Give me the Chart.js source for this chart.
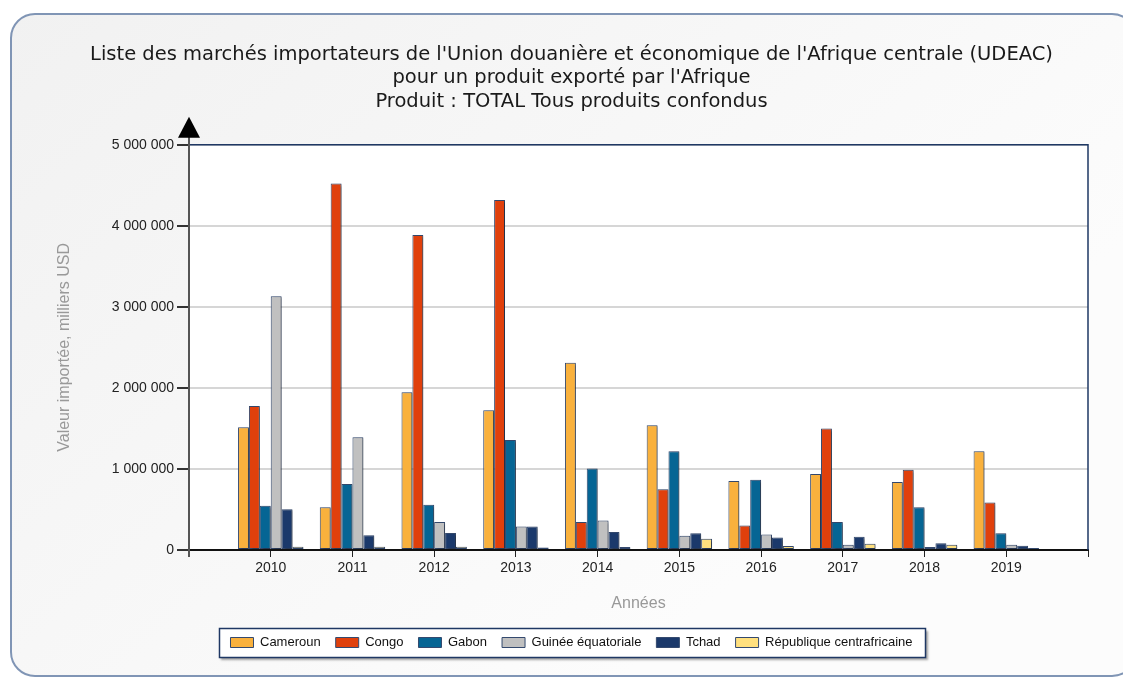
<!DOCTYPE html>
<html>
<head>
<meta charset="utf-8">
<script src="https://cdn.jsdelivr.net/npm/chart.js@4.4.0/dist/chart.umd.min.js"></script>
<style>
  html, body { margin: 0; padding: 0; background: #fff; }
  #wrap { width: 1123px; height: 677px; }
</style>
</head>
<body>
<div id="wrap"><canvas id="myChart" width="1123" height="677"></canvas></div>
<script>
const years = ['2010', '2011', '2012', '2013', '2014', '2015', '2016', '2017', '2018', '2019'];

const cameroun = [1515000, 528000, 1947000, 1724000, 2310000, 1539000, 850000, 937000, 838000, 1217000];
const congo = [1778000, 4521000, 3886000, 4319000, 347000, 751000, 301000, 1498000, 990000, 585000];
const gabon = [545000, 813000, 557000, 1357000, 1006000, 1217000, 866000, 347000, 528000, 206000];
const guinee = [3131000, 1390000, 347000, 289000, 363000, 177000, 190000, 66000, 37000, 66000];
const tchad = [503000, 182000, 210000, 289000, 223000, 206000, 153000, 165000, 83000, 53000];
const rca = [41000, 41000, 40000, 30000, 37000, 140000, 50000, 78000, 66000, 25000];

const yTicks = [0, 1000000, 2000000, 3000000, 4000000, 5000000];

const titleLines = [
  "Liste des marchés importateurs de l'Union douanière et économique de l'Afrique centrale (UDEAC)",
  "pour un produit exporté par l'Afrique",
  "Produit : TOTAL Tous produits confondus"
];

// empty slot before 2010 and after 2019, like the original axis
const labels = [''].concat(years, ['']);
function pad(arr) { return [null].concat(arr, [null]); }

function fmt(v) {
  return String(v).replace(/\B(?=(\d{3})+(?!\d))/g, ' ');
}

const frame = {
  id: 'frame',
  beforeDraw(chart) {
    const ctx = chart.ctx;
    const a = chart.chartArea;
    ctx.save();
    ctx.fillStyle = '#fff';
    ctx.fillRect(0, 0, chart.width, chart.height);
    // rounded panel
    let g = ctx.createLinearGradient(0, 14, 600, 700);
    g.addColorStop(0, '#f1f1f1');
    g.addColorStop(1, '#fcfcfc');
    ctx.beginPath();
    ctx.roundRect(11, 14, 1125, 662, 24);
    ctx.fillStyle = g;
    ctx.fill();
    ctx.lineWidth = 2;
    ctx.strokeStyle = '#8095b5';
    ctx.stroke();
    // plot background
    ctx.fillStyle = '#fff';
    ctx.fillRect(a.left, a.top, a.right - a.left, a.bottom - a.top);
    // legend box
    const lg = chart.legend;
    if (lg && lg.legendHitBoxes.length) {
      const hb = lg.legendHitBoxes;
      const l = hb[0].left - 11;
      const r = hb[hb.length - 1].left + hb[hb.length - 1].width + 13;
      const cy = hb[0].top + hb[0].height / 2;
      ctx.shadowColor = 'rgba(0,0,0,0.35)';
      ctx.shadowOffsetX = 2;
      ctx.shadowOffsetY = 2;
      ctx.shadowBlur = 2;
      ctx.fillStyle = '#fff';
      ctx.fillRect(l, cy - 14, r - l, 29);
      ctx.shadowColor = 'transparent';
      ctx.lineWidth = 1.5;
      ctx.strokeStyle = '#1f3864';
      ctx.strokeRect(l, cy - 14, r - l, 29);
    }
    ctx.restore();
  },
  beforeDatasetsDraw(chart) {
    const ctx = chart.ctx;
    ctx.save();
    ctx.shadowColor = 'rgba(0,0,0,0.35)';
    ctx.shadowOffsetX = 2;
    ctx.shadowOffsetY = 1;
    ctx.shadowBlur = 2;
  },
  afterDatasetsDraw(chart) {
    chart.ctx.restore();
  },
  afterDraw(chart) {
    const ctx = chart.ctx;
    const a = chart.chartArea;
    ctx.save();
    // top and right border of plot
    ctx.strokeStyle = '#1f3864';
    ctx.lineWidth = 1.5;
    ctx.beginPath();
    ctx.moveTo(a.left, a.top);
    ctx.lineTo(a.right, a.top);
    ctx.lineTo(a.right, a.bottom);
    ctx.stroke();
    // y axis extends below the baseline
    ctx.strokeStyle = '#555';
    ctx.lineWidth = 2;
    ctx.beginPath();
    ctx.moveTo(a.left, a.top - 8);
    ctx.lineTo(a.left, a.bottom + 7);
    ctx.stroke();
    // arrow
    ctx.fillStyle = '#000';
    ctx.beginPath();
    ctx.moveTo(a.left, a.top - 28);
    ctx.lineTo(a.left - 11, a.top - 7);
    ctx.lineTo(a.left + 11, a.top - 7);
    ctx.closePath();
    ctx.fill();
    ctx.restore();
  }
};

function ds(label, data, color) {
  return {
    label: label,
    data: pad(data),
    backgroundColor: color,
    borderColor: '#34496e',
    borderWidth: 1,
    borderSkipped: false,
    categoryPercentage: 0.8,
    barPercentage: 1.0
  };
}

const myChart = document.getElementById('myChart');
new Chart(myChart, {
  type: 'bar',
  data: {
    labels: labels,
    datasets: [
      ds('Cameroun', cameroun, '#f9b13d'),
      ds('Congo', congo, '#e0400c'),
      ds('Gabon', gabon, '#066594'),
      ds('Guinée équatoriale', guinee, '#c0c0c0'),
      ds('Tchad', tchad, '#1b396b'),
      ds('République centrafricaine', rca, '#ffe07e')
    ]
  },
  plugins: [frame],
  options: {
    responsive: false,
    animation: false,
    layout: { padding: { left: 55, right: 35, top: 0, bottom: 18 } },
    plugins: {
      title: {
        display: true,
        text: titleLines,
        color: '#1a1a1a',
        font: { family: 'DejaVu Sans', size: 19.5, weight: 'normal', lineHeight: 1.21 },
        padding: { top: 43, bottom: 31 }
      },
      legend: {
        position: 'bottom',
        labels: {
          boxWidth: 23,
          boxHeight: 10,
          padding: 15,
          color: '#111',
          font: { family: 'Liberation Sans', size: 13 }
        }
      },
      tooltip: { enabled: false }
    },
    scales: {
      x: {
        offset: false,
        grid: { offset: false, drawOnChartArea: false, tickLength: 7, tickColor: '#222' },
        border: { color: '#111', width: 2 },
        ticks: {
          color: '#222',
          padding: 3,
          maxRotation: 0,
          autoSkip: false,
          font: { family: 'Liberation Sans', size: 14 }
        },
        title: {
          display: true,
          text: 'Années',
          color: '#999',
          font: { family: 'Liberation Sans', size: 16 },
          padding: { top: 14, bottom: 8 }
        }
      },
      y: {
        min: 0,
        max: 5000000,
        afterFit(scale) { scale.width = 134; },
        afterBuildTicks(scale) { scale.ticks = yTicks.map(v => ({ value: v })); },
        grid: { color: '#d6d6d6', lineWidth: 2, tickLength: 12, tickColor: '#333' },
        border: { color: '#555', width: 2 },
        ticks: {
          color: '#222',
          padding: 3,
          font: { family: 'Liberation Sans', size: 14 },
          callback: v => fmt(v)
        },
        title: {
          display: true,
          text: 'Valeur importée, milliers USD',
          color: '#999',
          font: { family: 'Liberation Sans', size: 16 },
          padding: { top: 0, bottom: 0 }
        }
      }
    }
  }
});
</script>
</body>
</html>
